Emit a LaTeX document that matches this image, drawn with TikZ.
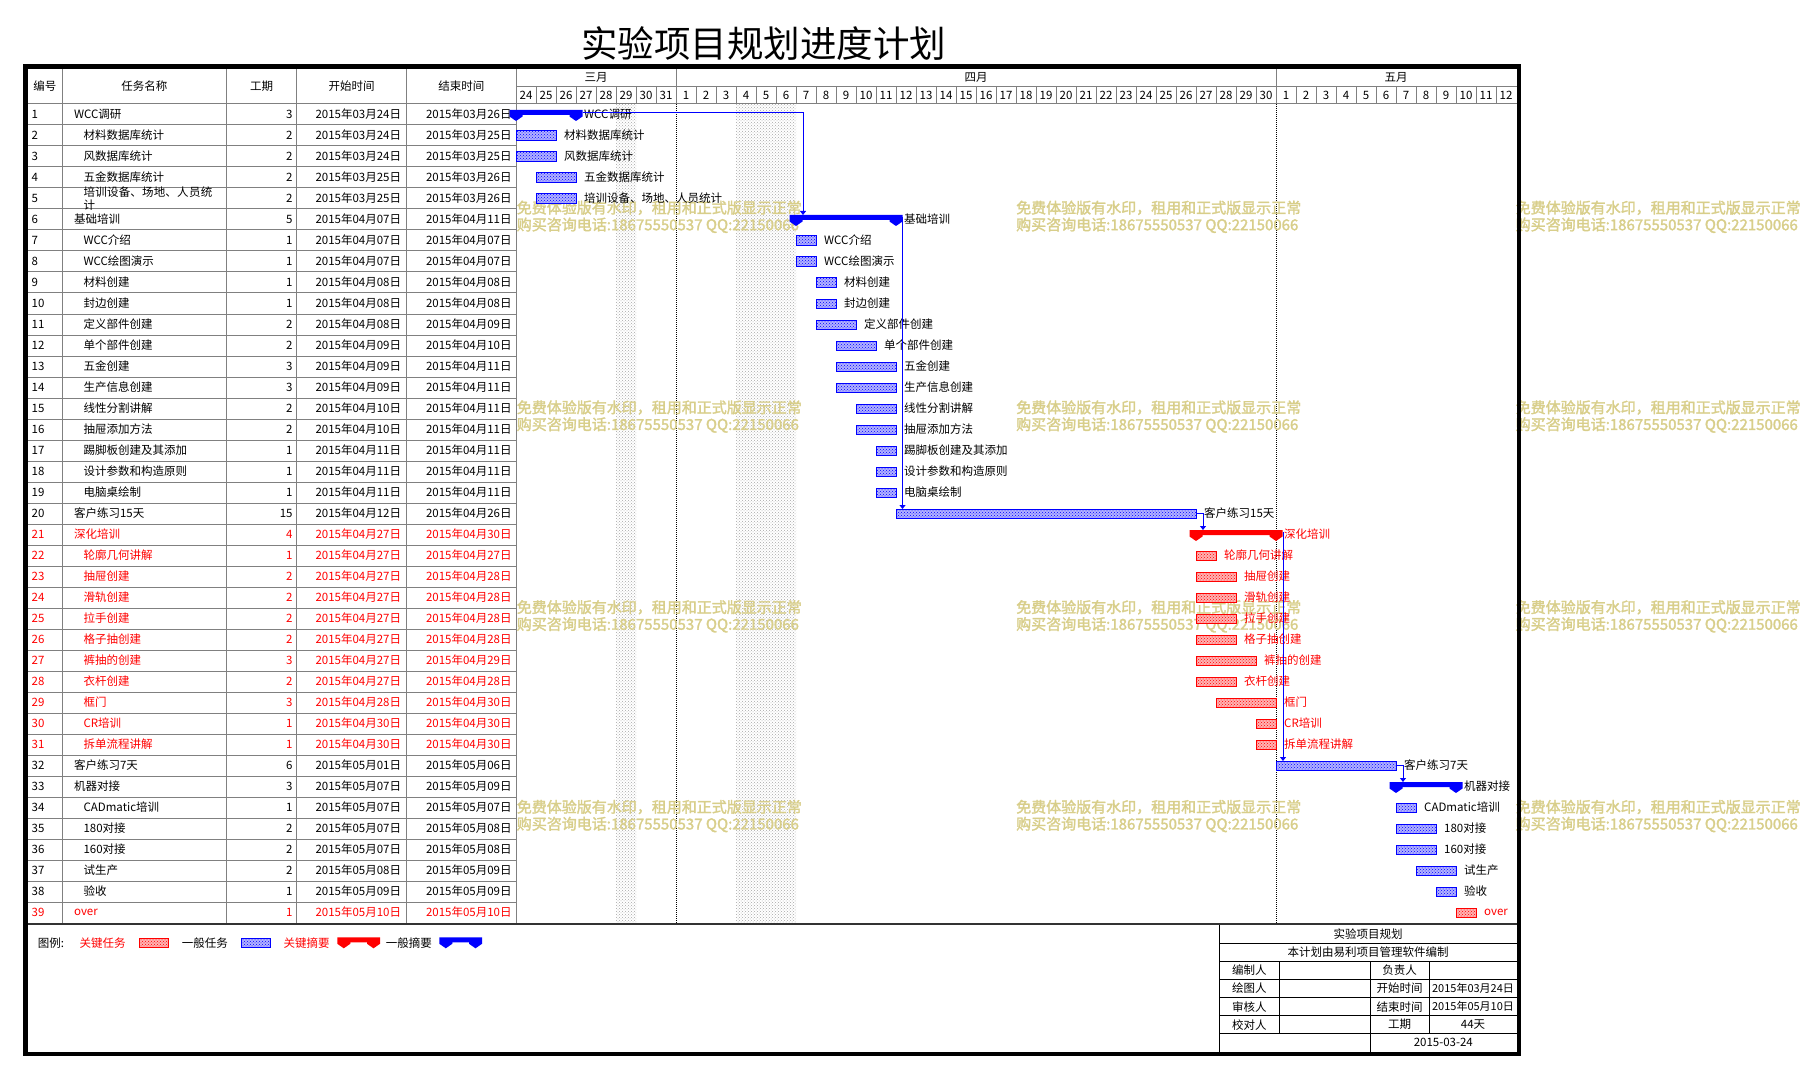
\documentclass[tikz,border=0pt]{standalone}
\usepackage{fontspec}
\setmainfont{Noto Sans CJK SC}[AutoFakeBold=2]
\XeTeXlinebreaklocale "zh"
\XeTeXlinebreakskip=0pt plus 1pt
\usetikzlibrary{arrows.meta,patterns,positioning}
\definecolor{wmark}{RGB}{216,206,138}
\definecolor{gline}{RGB}{128,128,128}
\newcommand\sumbar[4]{% colour, start x, end x, row top
  \fill[#1] ({#2-6.5},{#4+6}) -- ({#3+6.5},{#4+6}) -- ({#3+6.5},{#4+12.5}) -- (#3,{#4+17})
    -- ({#3-6.5},{#4+12.5}) -- ({#3-6.5},{#4+11}) -- ({#2+6.5},{#4+11}) -- ({#2+6.5},{#4+12.5})
    -- (#2,{#4+17}) -- ({#2-6.5},{#4+12.5}) -- cycle;}
\tikzset{
  every node/.style={font=\fontsize{11.5}{12.5}\selectfont, inner sep=0pt},
  gl/.style={draw=gline, line width=1pt},
  tbar/.style={draw=#1, line width=1pt, fill=#1!30, postaction={pattern=crosshatch dots, pattern color=#1}},
  dep/.style={draw=blue, line width=1pt, -{Triangle[length=4pt,width=6pt]}},
  wmtext/.style={font=\fontsize{15}{17.5}\selectfont\bfseries, text=wmark, anchor=west},
}
\begin{document}
\begin{tikzpicture}[x=1pt, y=-1pt]
        \useasboundingbox (0,0) rectangle (1800,1078);
        \node (title) at (763.5,43.6) {\fontsize{36.5}{40}\selectfont 实验项目规划进度计划};

        % weekends
        \fill[pattern=crosshatch dots, pattern color=gray!70] (616,104) rectangle (636,924);
        \fill[pattern=crosshatch dots, pattern color=gray!70] (736,104) rectangle (796,924);

        % table grid
        \foreach \gx in {62.3,226.5,296.5,406.4,516.3}
            \draw[gl] (\gx,69) -- (\gx,924);
        \foreach \k in {1,...,38}
            \draw[gl] (27.5,{104+21*\k}) -- (516.3,{104+21*\k});
        \draw[gl] (27.5,104) -- (1516.7,104);
        \draw[gl] (516.3,86.7) -- (1516.7,86.7);
        \foreach \k in {1,...,49}
            \draw[gl] ({516+20*\k},86.7) -- ({516+20*\k},104);
        \draw[gl] (676,69) -- (676,86.7);
        \draw[gl] (1276,69) -- (1276,86.7);
        \draw[densely dotted, line width=1pt] (676,104) -- (676,924);
        \draw[densely dotted, line width=1pt] (1276,104) -- (1276,924);

        % header
        \foreach \lbl/\cx [count=\i] in {编号/44.9, 任务名称/144.4, 工期/261.5, 开始时间/351.5, 结束时间/461.4}
            \node (hd\i) at (\cx,86.5) {\lbl};
        \node (mar) at (596,77.8) {三月};
        \node (apr) at (976,77.8) {四月};
        \node (may) at (1396,77.8) {五月};
        \foreach \d in {24,...,31}
            \node (dm\d) at ({516+20*(\d-24)+10},95.3) {\d};
        \foreach \d in {1,...,30}
            \node (da\d) at ({676+20*(\d-1)+10},95.3) {\d};
        \foreach \d in {1,...,12}
            \node (dy\d) at ({1276+20*(\d-1)+10},95.3) {\d};

        % watermark
        \foreach \wx [count=\i] in {516.6,1016,1515.5}
            \foreach \wy [count=\j] in {207.8,407.5,607.3,807} {
                \node[wmtext] (wa\i\j) at (\wx,\wy) {免费体验版有水印，租用和正式版显示正常};
                \node[wmtext] (wb\i\j) at (\wx,{\wy+17.5}) {购买咨询电话:18675550537 QQ:22150066};
            }

        % tasks
        \foreach \n/\tname/\lv/\du/\sd/\ed/\tc/\bc/\tp/\s/\e in {
            1/WCC调研/0/3/03月24日/03月26日/black/blue/1/0/3,
            2/材料数据库统计/1/2/03月24日/03月25日/black/blue/0/0/2,
            3/风数据库统计/1/2/03月24日/03月25日/black/blue/0/0/2,
            4/五金数据库统计/1/2/03月25日/03月26日/black/blue/0/1/3,
            5/培训设备、场地、人员统计/1/2/03月25日/03月26日/black/blue/0/1/3,
            6/基础培训/0/5/04月07日/04月11日/black/blue/1/14/19,
            7/WCC介绍/1/1/04月07日/04月07日/black/blue/0/14/15,
            8/WCC绘图演示/1/1/04月07日/04月07日/black/blue/0/14/15,
            9/材料创建/1/1/04月08日/04月08日/black/blue/0/15/16,
            10/封边创建/1/1/04月08日/04月08日/black/blue/0/15/16,
            11/定义部件创建/1/2/04月08日/04月09日/black/blue/0/15/17,
            12/单个部件创建/1/2/04月09日/04月10日/black/blue/0/16/18,
            13/五金创建/1/3/04月09日/04月11日/black/blue/0/16/19,
            14/生产信息创建/1/3/04月09日/04月11日/black/blue/0/16/19,
            15/线性分割讲解/1/2/04月10日/04月11日/black/blue/0/17/19,
            16/抽屉添加方法/1/2/04月10日/04月11日/black/blue/0/17/19,
            17/踢脚板创建及其添加/1/1/04月11日/04月11日/black/blue/0/18/19,
            18/设计参数和构造原则/1/1/04月11日/04月11日/black/blue/0/18/19,
            19/电脑桌绘制/1/1/04月11日/04月11日/black/blue/0/18/19,
            20/客户练习15天/0/15/04月12日/04月26日/black/blue/0/19/34,
            21/深化培训/0/4/04月27日/04月30日/red/red/1/34/38,
            22/轮廓几何讲解/1/1/04月27日/04月27日/red/red/0/34/35,
            23/抽屉创建/1/2/04月27日/04月28日/red/red/0/34/36,
            24/滑轨创建/1/2/04月27日/04月28日/red/red/0/34/36,
            25/拉手创建/1/2/04月27日/04月28日/red/red/0/34/36,
            26/格子抽创建/1/2/04月27日/04月28日/red/red/0/34/36,
            27/裤抽的创建/1/3/04月27日/04月29日/red/red/0/34/37,
            28/衣杆创建/1/2/04月27日/04月28日/red/red/0/34/36,
            29/框门/1/3/04月28日/04月30日/red/red/0/35/38,
            30/CR培训/1/1/04月30日/04月30日/red/red/0/37/38,
            31/拆单流程讲解/1/1/04月30日/04月30日/red/red/0/37/38,
            32/客户练习7天/0/6/05月01日/05月06日/black/blue/0/38/44,
            33/机器对接/0/3/05月07日/05月09日/black/blue/1/44/47,
            34/CADmatic培训/1/1/05月07日/05月07日/black/blue/0/44/45,
            35/180对接/1/2/05月07日/05月08日/black/blue/0/44/46,
            36/160对接/1/2/05月07日/05月08日/black/blue/0/44/46,
            37/试生产/1/2/05月08日/05月09日/black/blue/0/45/47,
            38/验收/1/1/05月09日/05月09日/black/blue/0/46/47,
            39/over/0/1/05月10日/05月10日/red/red/0/47/48} {
            \pgfmathsetmacro\yt{104+21*(\n-1)}
            \pgfmathsetmacro\yc{\yt+10.5}
            \pgfmathsetmacro\xa{516+20*\s}
            \pgfmathsetmacro\xb{516+20*\e}
            \pgfmathsetmacro\xn{73.9+9.5*\lv}
            \node[text=\tc, anchor=west] (no\n) at (31.5,\yc) {\n};
            \node[text=\tc, anchor=west, text width=135pt, align=left] (tn\n) at (\xn,\yc) {\tname};
            \node[text=\tc, anchor=east] (du\n) at (292.8,\yc) {\du};
            \node[text=\tc, anchor=east] (sd\n) at (401.3,\yc) {2015年\sd};
            \node[text=\tc, anchor=east] (ed\n) at (511.8,\yc) {2015年\ed};
            \ifnum\tp=1
                \sumbar{\bc}{\xa}{\xb}{\yt}
                \coordinate (s\n) at (\xa,{\yt+6});
                \coordinate (e\n) at (\xb,{\yt+8.5});
            \else
                \draw[tbar=\bc] (\xa,{\yt+6}) rectangle (\xb,{\yt+15.5});
                \coordinate (s\n) at (\xa,{\yt+6});
                \coordinate (e\n) at (\xb,{\yt+10.75});
            \fi
            \node[text=\tc, anchor=west] (bl\n) at ({\xb+8},\yc) {\tname};
        }

        % links
        \draw[dep] ([xshift=6.5pt]e1) -| ([xshift=7pt]s6);
        \draw[dep] ([xshift=6.5pt]e6) -- ([xshift=6.5pt]s20);
        \draw[dep] (e20) -| ([xshift=7pt]s21);
        \draw[dep] ([xshift=6.5pt]e21) -| ([xshift=7pt]s32);
        \draw[dep] (e32) -| ([xshift=7pt]s33);

        % legend
        \node[anchor=west] (lg) at (37.7,943.3) {图例:};
        \node[anchor=west, text=red] (lg1) at (79.3,943.3) {关键任务};
        \draw[tbar=red] (139.3,938.3) rectangle (168.7,947.7);
        \node[anchor=west] (lg2) at (181.7,943.3) {一般任务};
        \draw[tbar=blue] (241.3,938.3) rectangle (270.7,947.7);
        \node[anchor=west, text=red] (lg3) at (283.3,943.3) {关键摘要};
        \sumbar{red}{343.8}{373.5}{931.3}
        \node[anchor=west] (lg4) at (385.7,943.3) {一般摘要};
        \sumbar{blue}{445.8}{475.5}{931.3}

        % title block
        \draw[line width=1pt] (1219.3,924) -- (1219.3,1052);
        \foreach \hy in {943.3,961.7,979.3,997.7,1015.7,1033.7}
            \draw[line width=1pt] (1219.3,\hy) -- (1516.7,\hy);
        \draw[line width=1pt] (1279.3,961.7) -- (1279.3,1033.7);
        \draw[line width=1pt] (1370,961.7) -- (1370,1052);
        \draw[line width=1pt] (1429.3,961.7) -- (1429.3,1033.7);
        \node (tb1) at (1368,933.7) {实验项目规划};
        \node (tb2) at (1368,952.5) {本计划由易利项目管理软件编制};
        \node (tb3) at (1249.3,970.5) {编制人};
        \node (tb4) at (1249.3,988.5) {绘图人};
        \node (tb5) at (1249.3,1006.7) {审核人};
        \node (tb6) at (1249.3,1024.7) {校对人};
        \node (tb7) at (1399.7,970.5) {负责人};
        \node (tb8) at (1399.7,988.5) {开始时间};
        \node (tb9) at (1399.7,1006.7) {结束时间};
        \node (tb10) at (1399.7,1024.7) {工期};
        \node[font=\fontsize{11}{12}\selectfont] (tb11) at (1473,988.5) {2015年03月24日};
        \node[font=\fontsize{11}{12}\selectfont] (tb12) at (1473,1006.7) {2015年05月10日};
        \node (tb13) at (1473,1024.7) {44天};
        \node (tb14) at (1443.3,1042.7) {2015-03-24};

        % frame
        \draw[line width=1.5pt, black!80] (27.5,924) -- (1516.7,924);
        \draw[line width=4.5pt] (25.5,66.5) rectangle (1519,1054.2);
    \end{tikzpicture}
\end{document}
